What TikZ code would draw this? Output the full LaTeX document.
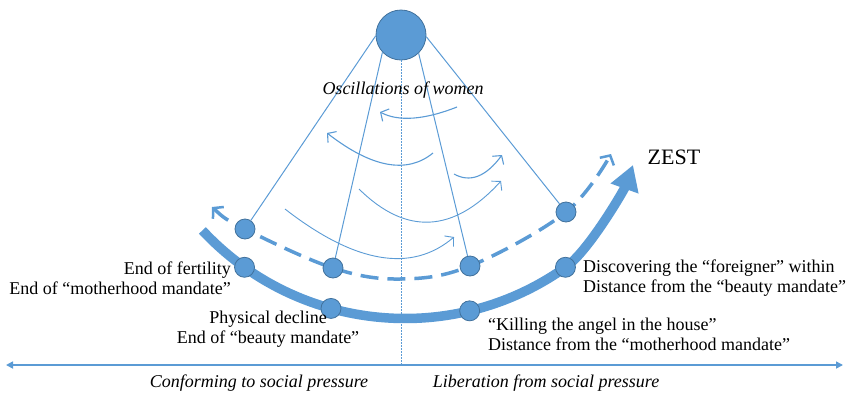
\documentclass[tikz,border=0pt]{standalone}
\usepackage{fontspec}
\setmainfont{Liberation Serif}
\usetikzlibrary{arrows.meta}
\definecolor{blu}{HTML}{5B9BD5}
\definecolor{bluedge}{HTML}{41719C}
\begin{document}
\begin{tikzpicture}[x=1pt,y=-1pt,
  dot/.style={circle,fill=blu,draw=bluedge,line width=0.8pt,minimum size=20pt,inner sep=0pt},
  hang/.style={blu,line width=1pt},
  osc/.style={blu,line width=1.1pt,-{Straight Barb[length=6pt,width=14pt]}},
  lbl/.style={font=\fontsize{18}{20}\selectfont,inner sep=0pt},
  ]
\useasboundingbox (0,0) rectangle (847,400);
% coordinates
\coordinate (ctr) at (405,41.5);
\coordinate (tA) at ([shift={(137:277)}]ctr);
\coordinate (t1) at ([shift={(125.4:277)}]ctr);
\coordinate (t2) at ([shift={(105.5:277)}]ctr);
\coordinate (t3) at ([shift={(76.5:277)}]ctr);
\coordinate (t4) at ([shift={(54.6:277)}]ctr);
\coordinate (tE) at (633,165);
\coordinate (dA) at (212,207);
\coordinate (d1) at (245,229);
\coordinate (d2) at (333,268);
\coordinate (d3) at (470,266);
\coordinate (d4) at (566,212);
\coordinate (dE) at (611,154);
\coordinate (axL) at (6,365);
\coordinate (axR) at (843,365);
\coordinate (axM) at (401,365);
% pivot
\node[dot,minimum size=50pt] (pivot) at (401,35) {};
% dotted centre line
\draw[blu,line width=0.9pt,dash pattern=on 1.5pt off 1.5pt] (pivot.south) -- (axM);
% axis
\draw[blu,line width=1.6pt,{Triangle[length=7pt,width=7pt]}-{Triangle[length=7pt,width=7pt]}] (axL) -- (axR);
% thick arc
\draw[blu,line width=9.5pt,-{Triangle[length=25pt,width=28pt]}] (tA) arc[start angle=137,end angle=54.6,radius=277] .. controls (588,252) and (624,190) .. (tE);
% dashed arc
\draw[blu,line width=3.5pt,dash pattern=on 18pt off 9pt,{Straight Barb[length=7pt,width=16pt,line width=2.5pt]}-{Straight Barb[length=7pt,width=16pt,line width=2.5pt]}] plot[smooth,tension=0.6] coordinates {(dA) (d1) (d2) (400,279) (d3) (d4) (dE)};
% oscillation arrows
\coordinate (o1s) at (457,107); \coordinate (o1e) at (380,112);
\coordinate (o2s) at (433,153); \coordinate (o2e) at (327,133);
\coordinate (o3s) at (454,174); \coordinate (o3e) at (502,155);
\coordinate (o4s) at (359,189); \coordinate (o4e) at (501,181);
\coordinate (o5s) at (285,209); \coordinate (o5e) at (454,237);
\draw[osc] (o1s) .. controls (424,120) and (398.3,121.7) .. (o1e);
\draw[osc] (o2s) .. controls (407,174.3) and (371.7,167.7) .. (o2e);
\draw[osc] (o3s) .. controls (470,183) and (486,176.7) .. (o3e);
\draw[osc,line width=0.9pt] (o4s) .. controls (406.3,235.7) and (453.7,233) .. (o4e);
\draw[osc,line width=0.9pt] (o5s) .. controls (355.3,263.7) and (411.7,273) .. (o5e);
% small circles
\node[dot] (nt1) at (t1) {};
\node[dot] (nt2) at (t2) {};
\node[dot] (nt3) at (t3) {};
\node[dot] (nt4) at (t4) {};
\node[dot] (nd1) at (d1) {};
\node[dot] (nd2) at (d2) {};
\node[dot] (nd3) at (d3) {};
\node[dot] (nd4) at (d4) {};
% hanging lines
\draw[hang] (pivot.182) -- (nd1);
\draw[hang] (pivot.223) -- (nd2);
\draw[hang] (pivot.314) -- (nd3);
\draw[hang] (pivot.356) -- (nd4);
% texts
\node[lbl,font=\fontsize{18}{20}\selectfont\itshape] (osct) at (403,90) {Oscillations of women};
\node[lbl,font=\fontsize{22}{24}\selectfont] (zest) at (674,157) {ZEST};
\node[lbl,align=right,anchor=east] (l1) at (231,278) {End of fertility\\End of “motherhood mandate”};
\node[lbl,align=center] (l2) at (268,329) {Physical decline\\End of “beauty mandate”};
\node[lbl,align=left,anchor=west] (l3) at (583,278) {Discovering the “foreigner” within\\Distance from the “beauty mandate”};
\node[lbl,align=left,anchor=west] (l4) at (488,334) {“Killing the angel in the house”\\Distance from the “motherhood mandate”};
\node[lbl,font=\fontsize{18}{20}\selectfont\itshape] (conf) at (259,383) {Conforming to social pressure};
\node[lbl,font=\fontsize{18}{20}\selectfont\itshape] (lib) at (546,383) {Liberation from social pressure};
\end{tikzpicture}
\end{document}
